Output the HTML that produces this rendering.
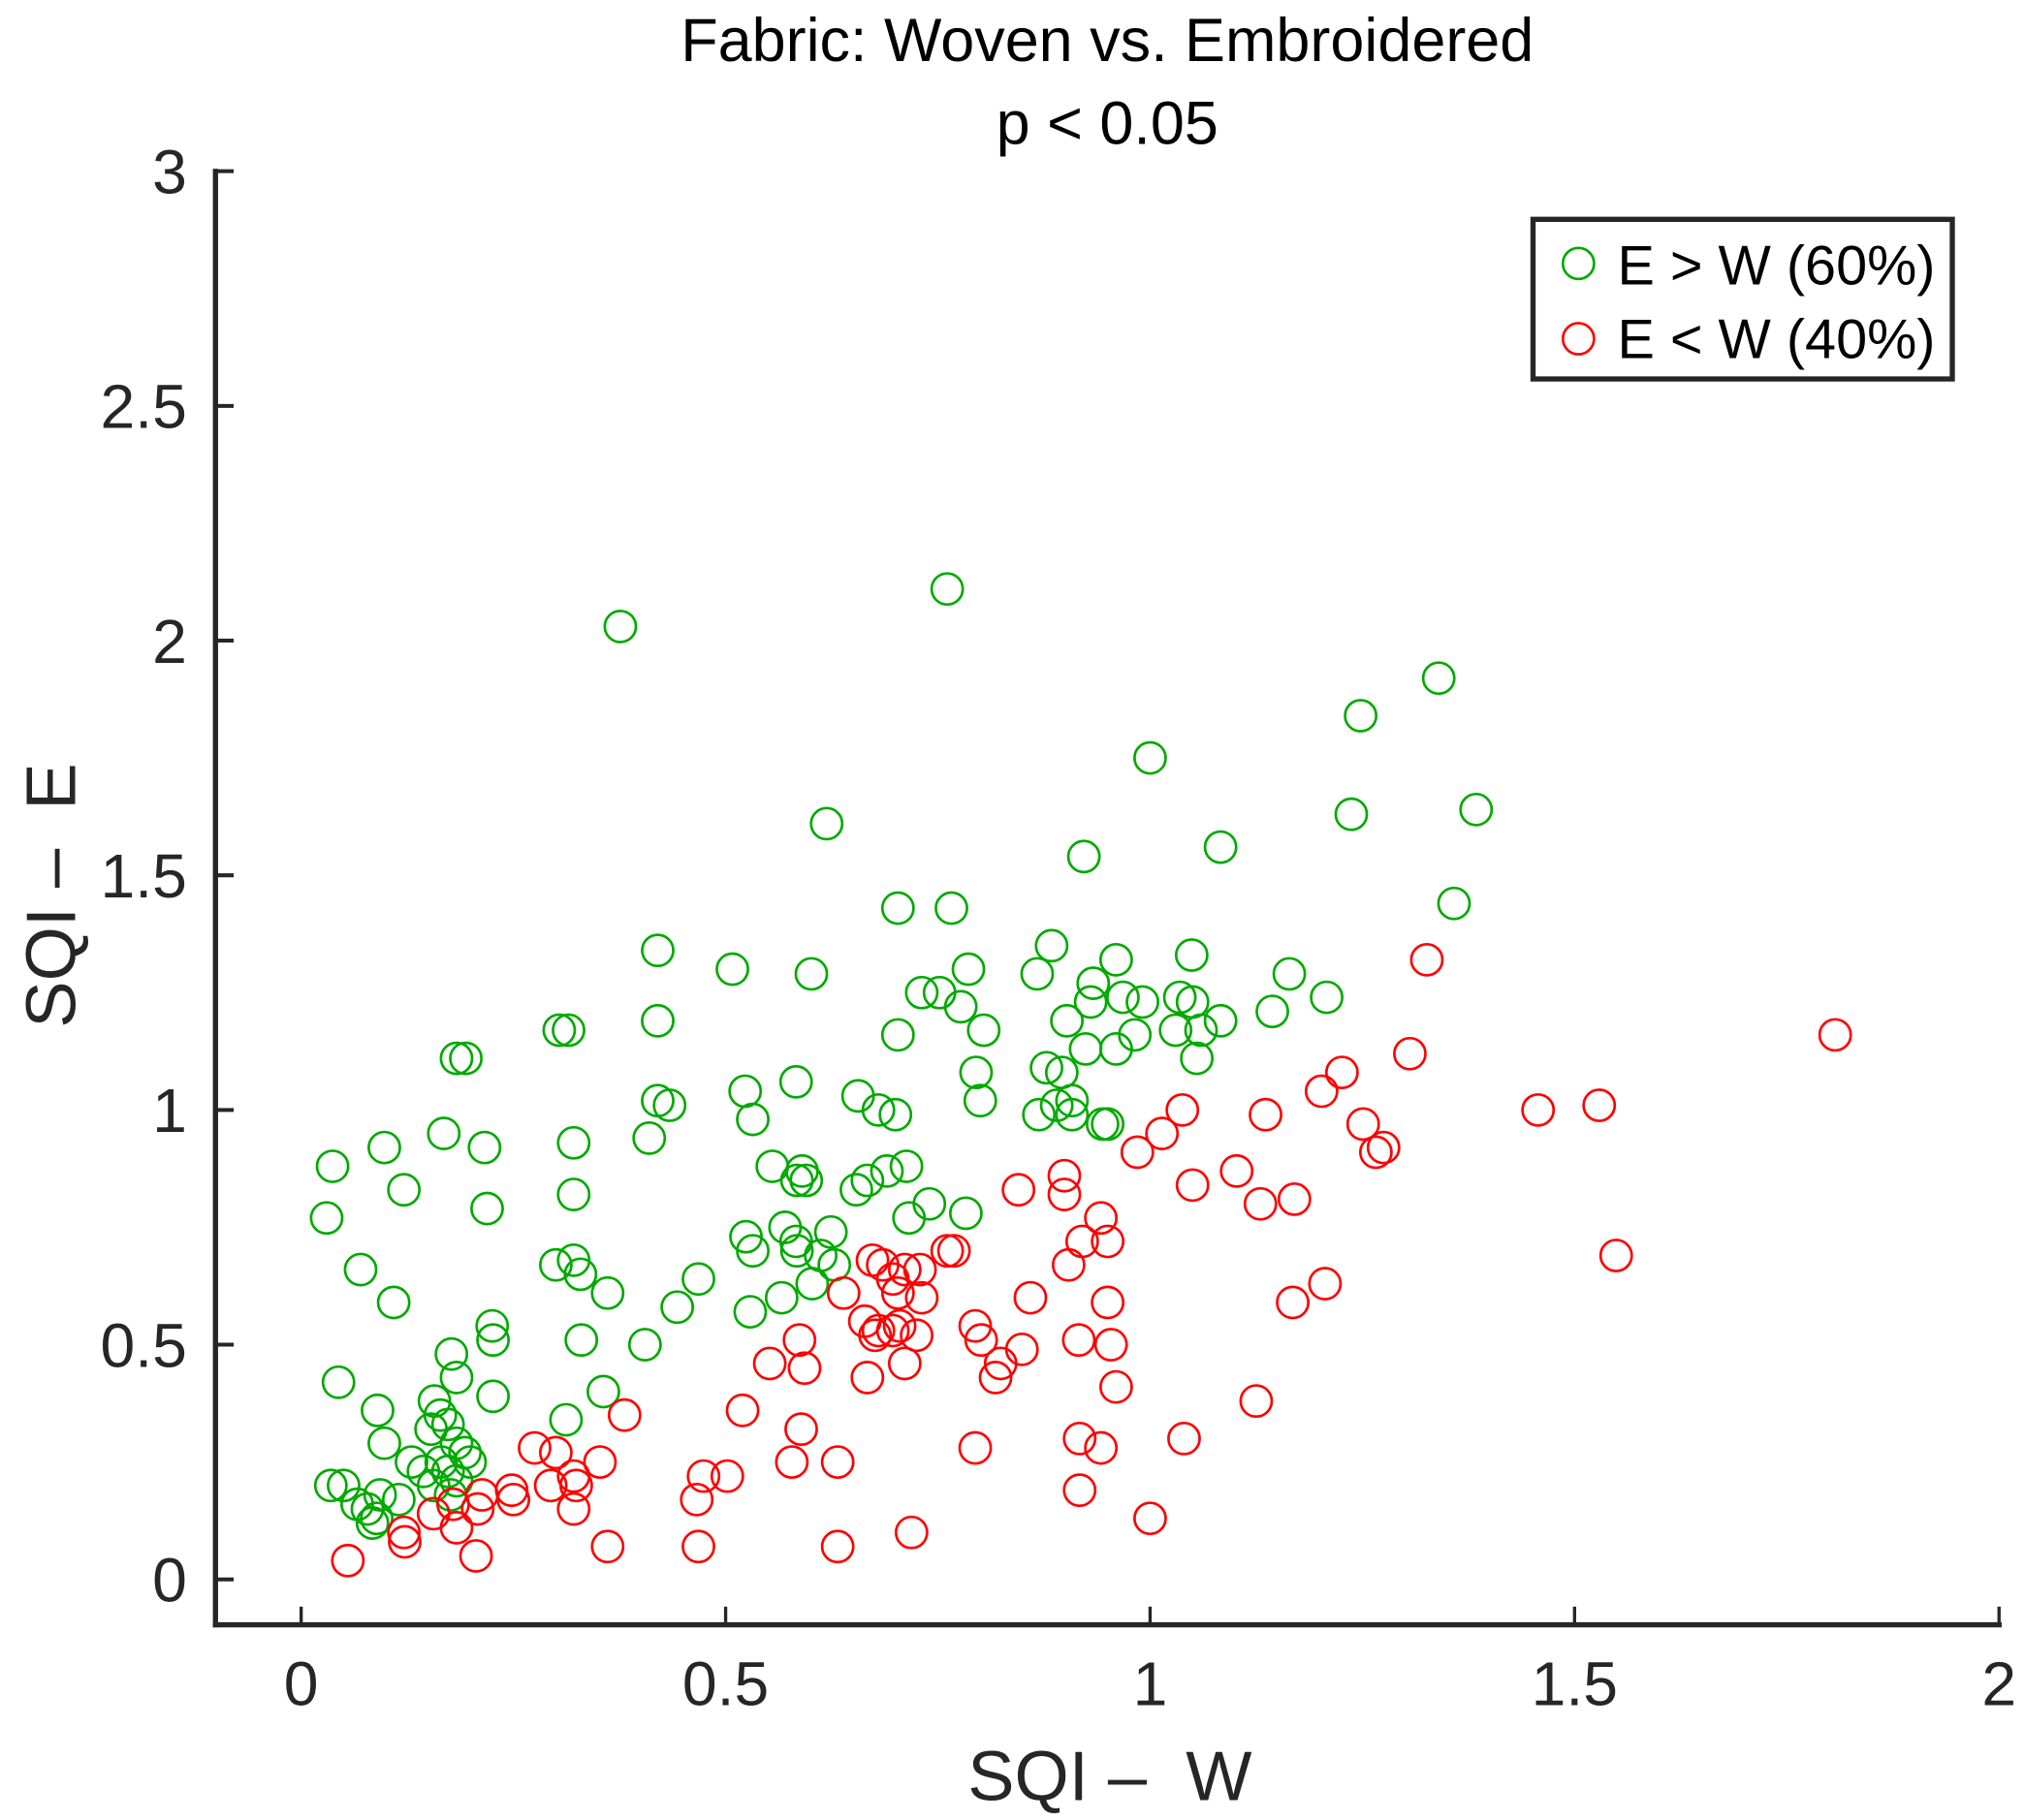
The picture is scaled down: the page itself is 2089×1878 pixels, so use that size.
<!DOCTYPE html>
<html><head><meta charset="utf-8"><style>html,body{margin:0;padding:0;background:#fff}svg{display:block}</style></head>
<body>
<svg id="chart" width="2089" height="1878" viewBox="0 0 1560 1402.4" xmlns="http://www.w3.org/2000/svg" font-family="'Liberation Sans', sans-serif">
<rect width="1560" height="1402.4" fill="#fff"/>
<text x="853" y="47" font-size="47" text-anchor="middle" fill="#000">Fabric: Woven vs. Embroidered</text>
<text x="853" y="111" font-size="47" text-anchor="middle" fill="#000">p &lt; 0.05</text>
<g id="axes"></g>
<g id="pts"></g>
<text x="855" y="1387" font-size="54" text-anchor="middle" fill="#262626" xml:space="preserve">SQI –  W</text>
<text transform="translate(58,690) rotate(-90)" font-size="54" text-anchor="middle" fill="#262626" xml:space="preserve">SQI –  E</text>
<g>
<rect x="1181" y="169" width="323" height="123" fill="#fff" stroke="#262626" stroke-width="4"/>
<circle cx="1216" cy="203" r="12" fill="none" stroke="#00aa00" stroke-width="2"/>
<text x="1246" y="219" font-size="43" fill="#000">E &gt; W (60%)</text>
<circle cx="1216" cy="261" r="12" fill="none" stroke="#ff0000" stroke-width="2"/>
<text x="1246" y="276" font-size="43" fill="#000">E &lt; W (40%)</text>
</g>
</svg>
<script>
const xTicks=[0,0.5,1,1.5,2];
const xTickLabels=["0","0.5","1","1.5","2"];
const yTicks=[0,0.5,1,1.5,2,2.5,3];
const yTickLabels=["0","0.5","1","1.5","2","2.5","3"];
const greenX=[0.376,0.761,1.34,1.248,1.0,1.237,1.384,0.619,1.083,0.922,0.703,0.766,1.358,0.42,0.508,0.601,0.884,0.786,0.867,1.049,0.96,1.164,0.933,0.731,0.752,0.968,0.991,1.208,1.035,1.05,0.93,0.777,1.144,1.083,0.42,0.304,0.315,0.804,0.703,0.902,0.982,1.03,1.06,0.924,0.96,1.055,0.183,0.194,0.795,0.878,0.896,0.583,0.523,0.42,0.434,0.656,0.68,0.7,0.8,0.89,0.908,0.869,0.908,0.944,0.95,0.532,0.037,0.168,0.098,0.216,0.321,0.41,0.121,0.321,0.555,0.59,0.584,0.595,0.69,0.713,0.654,0.667,0.74,0.716,0.783,0.03,0.219,0.57,0.583,0.624,0.524,0.532,0.584,0.612,0.628,0.07,0.3,0.321,0.329,0.602,0.468,0.361,0.566,0.109,0.443,0.529,0.225,0.226,0.33,0.405,0.177,0.183,0.044,0.226,0.356,0.157,0.164,0.09,0.312,0.173,0.153,0.098,0.183,0.193,0.199,0.165,0.13,0.173,0.144,0.183,0.156,0.05,0.035,0.093,0.066,0.078,0.089,0.084,0.115,0.176];
const greenY=[2.03,2.11,1.92,1.84,1.75,1.63,1.64,1.61,1.56,1.54,1.43,1.43,1.44,1.34,1.30,1.29,1.35,1.30,1.29,1.33,1.32,1.29,1.27,1.25,1.25,1.24,1.23,1.24,1.24,1.23,1.23,1.22,1.21,1.19,1.19,1.17,1.17,1.17,1.16,1.19,1.16,1.17,1.17,1.13,1.13,1.11,1.11,1.11,1.08,1.09,1.08,1.06,1.04,1.02,1.01,1.03,1.0,0.99,1.02,1.01,1.02,0.99,0.99,0.97,0.97,0.98,0.88,0.95,0.92,0.92,0.93,0.94,0.83,0.82,0.88,0.87,0.85,0.85,0.87,0.88,0.83,0.85,0.80,0.77,0.78,0.77,0.79,0.75,0.72,0.74,0.73,0.70,0.70,0.69,0.67,0.66,0.67,0.68,0.65,0.63,0.64,0.61,0.60,0.59,0.58,0.57,0.54,0.51,0.51,0.50,0.48,0.43,0.42,0.39,0.40,0.38,0.35,0.36,0.34,0.33,0.32,0.29,0.29,0.27,0.25,0.25,0.25,0.23,0.23,0.21,0.20,0.20,0.20,0.18,0.16,0.15,0.13,0.12,0.17,0.18];
const redX=[1.807,1.326,1.306,1.226,1.202,1.457,1.529,1.251,1.136,1.038,1.014,0.985,1.266,1.275,1.102,1.05,0.899,0.845,0.899,1.13,1.17,0.942,0.95,0.92,1.549,0.769,0.761,0.729,0.685,0.673,0.697,0.711,0.904,0.639,1.206,1.168,0.859,0.95,0.731,0.703,0.664,0.68,0.697,0.725,0.705,0.676,0.794,0.801,0.587,0.916,0.954,0.849,0.824,0.818,0.552,0.593,0.711,0.667,0.96,1.125,0.52,0.381,0.589,0.917,1.04,0.942,0.794,0.578,0.632,0.275,0.3,0.352,0.321,0.294,0.324,0.502,0.474,0.466,0.917,0.248,0.213,0.25,0.179,0.208,0.156,0.321,0.121,0.122,0.183,1.0,0.719,0.361,0.468,0.632,0.055,0.206];
const redY=[1.16,1.32,1.12,1.08,1.04,1.0,1.01,0.97,0.99,1.0,0.95,0.91,0.91,0.92,0.87,0.84,0.86,0.83,0.82,0.80,0.81,0.77,0.72,0.72,0.69,0.70,0.70,0.66,0.67,0.68,0.64,0.66,0.67,0.61,0.63,0.59,0.60,0.59,0.60,0.61,0.55,0.53,0.53,0.52,0.54,0.52,0.54,0.51,0.51,0.51,0.50,0.49,0.46,0.43,0.46,0.45,0.46,0.43,0.41,0.38,0.36,0.35,0.32,0.30,0.30,0.28,0.28,0.25,0.25,0.28,0.27,0.25,0.22,0.20,0.20,0.22,0.22,0.17,0.19,0.19,0.18,0.17,0.16,0.15,0.14,0.15,0.10,0.08,0.11,0.13,0.10,0.07,0.07,0.07,0.04,0.05];

const NS='http://www.w3.org/2000/svg';
const X0=232,XS=654,Y0=1217,YS=361.7;
function sx(v){return X0+v*XS;}
function sy(v){return Y0-v*YS;}
function mk(tag,attrs,parent){const e=document.createElementNS(NS,tag);for(const k in attrs)e.setAttribute(k,attrs[k]);parent.appendChild(e);return e;}
const ax=document.getElementById('axes');
let e;
e=mk('line',{x1:166,y1:130,x2:166,y2:1254,stroke:'#262626','stroke-width':4},ax);


e=mk('line',{x1:164,y1:1252,x2:1542,y2:1252,stroke:'#262626','stroke-width':4},ax);


xTicks.forEach((t,i)=>{
  const l=mk('line',{x1:sx(t),y1:1252,x2:sx(t),y2:1238,stroke:'#262626','stroke-width':2.5},ax);
  
  
  const tx=mk('text',{x:sx(t),y:1314,'font-size':48,'text-anchor':'middle',fill:'#262626'},ax);
  tx.textContent=xTickLabels[i];
  
  
});
yTicks.forEach((t,i)=>{
  const l=mk('line',{x1:166,y1:sy(t),x2:180,y2:sy(t),stroke:'#262626','stroke-width':3},ax);
  
  
  const tx=mk('text',{x:144,y:sy(t)+17,'font-size':48,'text-anchor':'end',fill:'#262626'},ax);
  tx.textContent=yTickLabels[i];
  
  
});
const pg=document.getElementById('pts');
greenX.forEach((v,i)=>{
  const c=mk('circle',{cx:sx(v),cy:sy(greenY[i]),r:12,fill:'none',stroke:'#00aa00','stroke-width':2},pg);
  
  
});
redX.forEach((v,i)=>{
  const c=mk('circle',{cx:sx(v),cy:sy(redY[i]),r:12,fill:'none',stroke:'#ff0000','stroke-width':2},pg);
  
  
});
</script>
</body></html>
